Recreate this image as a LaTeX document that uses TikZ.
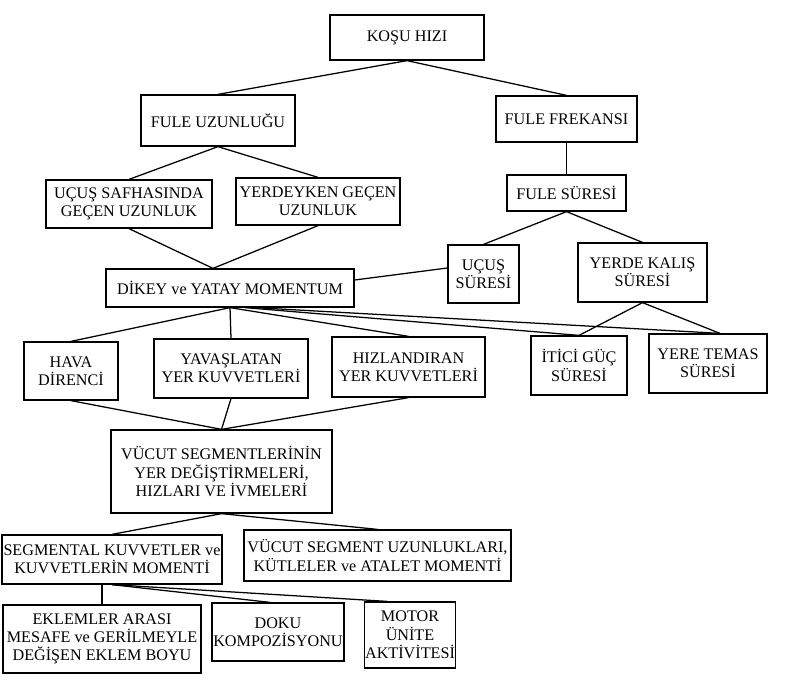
\documentclass[tikz,border=0pt]{standalone}
\usepackage{fontspec}
\setmainfont{Liberation Serif}
\usetikzlibrary{calc}
\begin{document}
\begin{tikzpicture}
    [ x=0.025cm, y=-0.025cm
    , box/.style={draw,shape=rectangle,line width=0.9pt,align=center,inner xsep=0.5pt,inner ysep=2pt}
    , boxsize/.style 2 args={minimum width=#1*0.025cm,minimum height=#2*0.025cm}
    , every node/.style={font=\fontsize{11.5}{13}\selectfont}
    , link/.style={line width=0.9pt}
    ]

    \useasboundingbox (0,0) rectangle (794,684);

    \path (407,37.5)   node [box, boxsize={154}{45}] (kosu)   {KOŞU HIZI}
          (218,120.5)  node [box, boxsize={154}{51}] (uzun)   {FULE UZUNLUĞU}
          (566.5,119)  node [box, boxsize={141}{46}] (frek)   {FULE FREKANSI}
          (566.5,193)  node [box, boxsize={119}{36}] (sure)   {FULE SÜRESİ}
          (129,204)    node [box, boxsize={166}{48}] (ucus)   {UÇUŞ SAFHASINDA\\GEÇEN UZUNLUK}
          (318,201.5)  node [box, boxsize={164}{47}] (yerdey) {YERDEYKEN GEÇEN\\UZUNLUK}
          (230,288)    node [box, boxsize={248}{38}] (moment) {DİKEY ve YATAY MOMENTUM}
          (483.5,274)  node [box, boxsize={71}{58}]  (ucsure) {UÇUŞ\\SÜRESİ}
          (642.5,272.5) node [box, boxsize={129}{59}] (yerde) {YERDE KALIŞ\\SÜRESİ}
    ;

    \path (71,371)     node [box, boxsize={94}{58}]  (hava)   {HAVA\\DİRENCİ}
          (231,368.5)  node [box, boxsize={154}{59}] (yavas)  {YAVAŞLATAN\\YER KUVVETLERİ}
          (408.5,367)  node [box, boxsize={153}{60}] (hizlan) {HIZLANDIRAN\\YER KUVVETLERİ}
          (579,365.5)  node [box, boxsize={96}{59}]  (itici)  {İTİCİ GÜÇ\\SÜRESİ}
          (708,363.5)  node [box, boxsize={118}{59}] (temas)  {YERE TEMAS\\SÜRESİ}
          (221.5,471.5) node [box, boxsize={221}{83}] (vucut) {VÜCUT SEGMENTLERİNİN\\YER DEĞİŞTİRMELERİ,\\HIZLARI VE İVMELERİ}
          (112,559.5)  node [box, boxsize={220}{49}] (segkuv) {SEGMENTAL KUVVETLER ve\\KUVVETLERİN MOMENTİ}
          (377.5,555.5) node [box, boxsize={267}{51}] (seguz) {VÜCUT SEGMENT UZUNLUKLARI,\\KÜTLELER ve ATALET MOMENTİ}
          (102,639)    node [box, boxsize={198}{68}] (eklem)  {EKLEMLER ARASI\\MESAFE ve GERİLMEYLE\\DEĞİŞEN EKLEM BOYU}
          (278,632)    node [box, boxsize={132}{58}] (doku)   {DOKU\\KOMPOZİSYONU}
          (410,635)    node [box, boxsize={88}{66}]  (motor)  {MOTOR\\ÜNİTE\\AKTİVİTESİ}
    ;

    \draw [link] (kosu.south) -- (uzun.north);
    \draw [link] (kosu.south) -- (frek.north);
    \draw [link] (frek.south) -- (sure.north);
    \draw [link] (uzun.south) -- (ucus.north);
    \draw [link] (uzun.south) -- (yerdey.north);
    \draw [link] (ucus.south) -- ($(moment.north)+(-17,0)$);
    \draw [link] (yerdey.south) -- ($(moment.north)+(-17,0)$);
    \draw [link] (sure.south) -- (ucsure.north);
    \draw [link] (sure.south) -- (yerde.north);
    \draw [link] ($(moment.east)+(0,-8)$) -- ($(ucsure.west)+(0,-6)$);

    \draw [link] (moment.south) -- (hava.north);
    \draw [link] (moment.south) -- (yavas.north);
    \draw [link] (moment.south) -- (hizlan.north);
    \draw [link] ($(moment.south)+(15,0)$) -- (itici.north);
    \draw [link] ($(moment.south)+(25,0)$) -- ($(temas.north)+(12,0)$);
    \draw [link] (yerde.south) -- (itici.north);
    \draw [link] (yerde.south) -- ($(temas.north)+(12,0)$);

    \draw [link] (hava.south) -- (vucut.north);
    \draw [link] (yavas.south) -- (vucut.north);
    \draw [link] (hizlan.south) -- (vucut.north);
    \draw [link] (vucut.south) -- (segkuv.north);
    \draw [link] (vucut.south) -- (seguz.north);
    \draw [link] (eklem.north) -- (eklem.north |- segkuv.south);
    \draw [link] (segkuv.south) -- ($(doku.north)+(-8,0)$);
    \draw [link] (segkuv.south) -- ($(motor.north)+(-23,0)$);

  \end{tikzpicture}
\end{document}
